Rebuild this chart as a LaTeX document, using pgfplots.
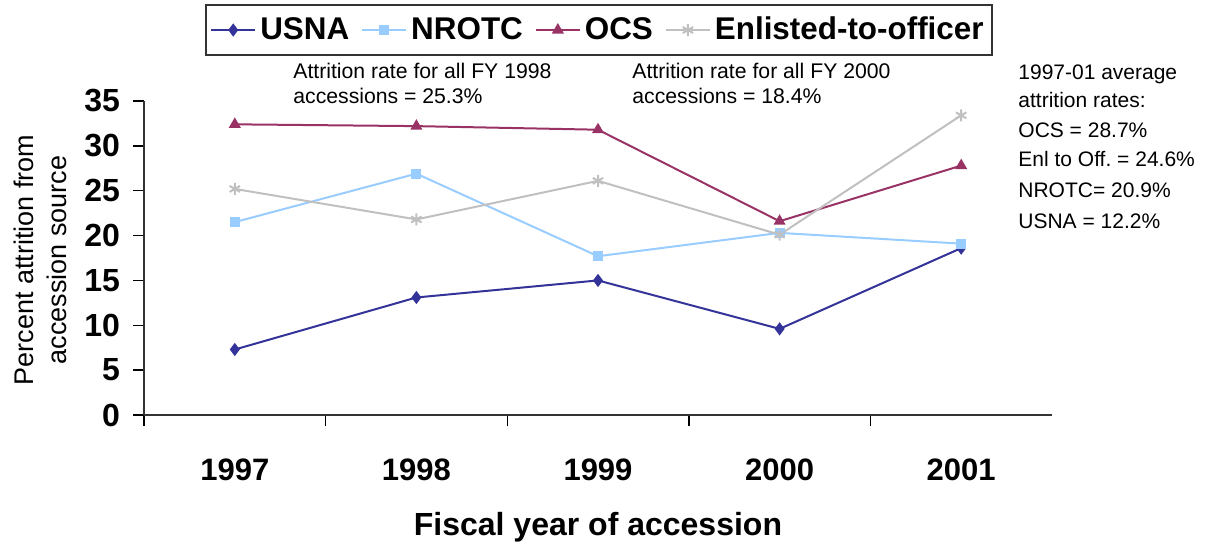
\documentclass[border=0pt]{standalone}
\usepackage{pgfplots}
\pgfplotsset{compat=1.18}
\usepackage{fontspec}
\setmainfont{Liberation Sans}
\definecolor{usna}{HTML}{333399}
\definecolor{nrotc}{HTML}{99CCFF}
\definecolor{ocs}{HTML}{993366}
\definecolor{enl}{HTML}{C0C0C0}
\begin{document}
\begin{tikzpicture}[x=1pt,y=1pt]
\path[use as bounding box] (0,0) rectangle (604.5,270.5);
\begin{axis}[
  at={(72pt,63pt)}, anchor=south west,
  scale only axis, width=454pt, height=157pt,
  xmin=-0.5, xmax=4.5, ymin=0, ymax=35,
  axis x line=bottom, axis y line=left,
  x axis line style={-, line width=1pt, color=black!80},
  y axis line style={-, line width=1pt, color=black!80},
  xtick={0,1,2,3,4},
  xticklabels={1997,1998,1999,2000,2001},
  major x tick style={draw=none},
  minor xtick={-0.5,0.5,1.5,2.5,3.5},
  minor tick length=5.5pt,
  minor x tick style={line width=0.7pt, black},
  ytick={0,5,...,35},
  major tick length=5.5pt,
  tick align=outside,
  y tick style={line width=0.7pt, black},
  /pgf/number format/assume math mode=true,
  xticklabel style={font=\bfseries\fontsize{15.5}{17}\selectfont, yshift=-13pt},
  yticklabel style={font=\bfseries\fontsize{16}{18}\selectfont, xshift=-3pt},
  xlabel={Fiscal year of accession},
  xlabel style={font=\bfseries\fontsize{16}{18}\selectfont, yshift=-9pt},
  legend style={at={(0.501,1.226)}, anchor=center, legend columns=4,
    draw=black!80, line width=1pt,
    font=\bfseries\fontsize{15.7}{17}\selectfont,
    /tikz/every even column/.append style={column sep=4pt},
    inner xsep=2pt, inner ysep=4pt},
  legend image code/.code={%
    \draw[mark repeat=2,mark phase=2,#1] plot coordinates {(0pt,0pt) (11pt,0pt) (22pt,0pt)};},
  every axis plot/.append style={line width=1pt},
  clip=false,
]
\addplot[color=usna, mark=diamond*, mark size=2.5pt, mark options={fill=usna}]
  coordinates {(0,7.3) (1,13.1) (2,15.0) (3,9.6) (4,18.6)};
\addlegendentry{USNA}
\addplot[color=nrotc, mark=square*, mark size=2pt, mark options={fill=nrotc}]
  coordinates {(0,21.5) (1,26.9) (2,17.7) (3,20.3) (4,19.1)};
\addlegendentry{NROTC}
\addplot[color=ocs, mark=triangle*, mark size=2.5pt, mark options={fill=ocs}]
  coordinates {(0,32.4) (1,32.2) (2,31.8) (3,21.6) (4,27.8)};
\addlegendentry{OCS}
\addplot[color=enl, mark=asterisk, mark size=3pt]
  coordinates {(0,25.2) (1,21.8) (2,26.1) (3,20.1) (4,33.4)};
\addlegendentry{Enlisted-to-officer}
\end{axis}
\node[rotate=90, align=center, font=\fontsize{13.5}{16.5}\selectfont] at (20,140.5)
  {Percent attrition from\\accession source};
\node[anchor=north west, align=left, inner sep=0pt, font=\fontsize{10.6}{12.5}\selectfont]
  at (146.5,239) {Attrition rate for all FY 1998\\accessions = 25.3\%};
\node[anchor=north west, align=left, inner sep=0pt, font=\fontsize{10.6}{12.5}\selectfont]
  at (316,239) {Attrition rate for all FY 2000\\accessions = 18.4\%};
\begin{scope}[every node/.style={anchor=west, inner sep=0pt, font=\fontsize{10.5}{12}\selectfont}]
\node at (509,233.5) {1997-01 average};
\node at (509,220.5) {attrition rates:};
\node at (509,205.5) {OCS = 28.7\%};
\node at (509,191) {Enl to Off.\ = 24.6\%};
\node at (509,175.5) {NROTC= 20.9\%};
\node at (509,160) {USNA = 12.2\%};
\end{scope}
\end{tikzpicture}
\end{document}
